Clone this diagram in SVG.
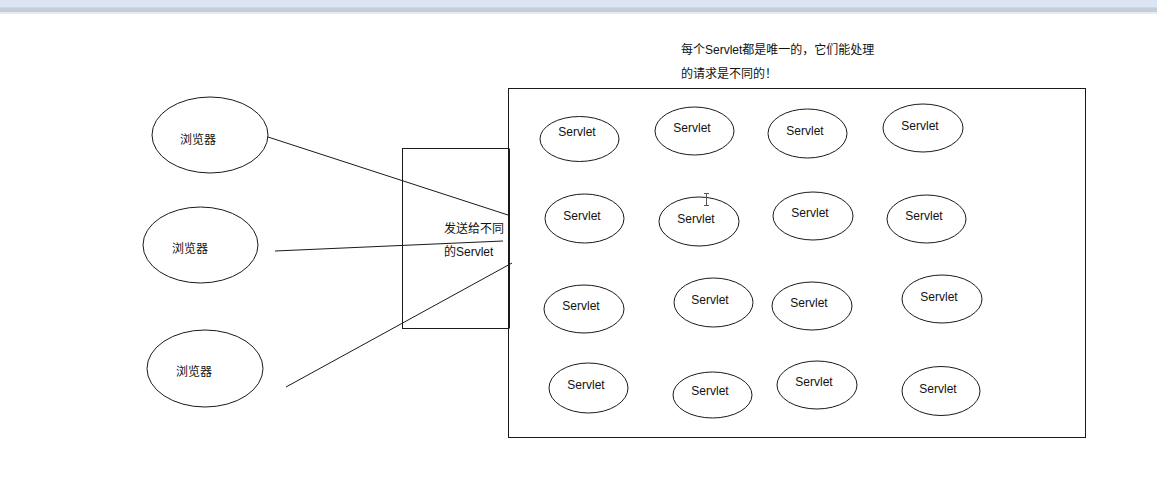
<svg xmlns="http://www.w3.org/2000/svg" width="1157" height="498" viewBox="0 0 1157 498">
  <style>
    .shape { fill: #fff; stroke: #1a1a1a; stroke-width: 1; }
    .frame { fill: none; stroke: #1a1a1a; stroke-width: 1; }
    .wire { fill: none; stroke: #1a1a1a; stroke-width: 1; }
    .lbl { font-family: "Liberation Sans", "Noto Sans CJK SC", sans-serif; font-size: 12px; fill: #111; text-anchor: middle; dominant-baseline: central; }
    .note { font-family: "Liberation Sans", "Noto Sans CJK SC", sans-serif; font-size: 12px; fill: #111; dominant-baseline: central; }
  </style>

  <rect x="0" y="0" width="1157" height="498" fill="#fff"/>

  <!-- window toolbar strip along the top edge -->
  <g id="toolbar">
    <rect x="0" y="0" width="1157" height="7" fill="#dce6f2"/>
    <rect x="0" y="7" width="1157" height="1" fill="#cdd8e6"/>
    <rect x="0" y="8" width="1157" height="4" fill="#c3cddc"/>
    <rect x="0" y="12" width="1157" height="2" fill="#e6ebf2"/>
  </g>

  <!-- big container for the servlets -->
  <g id="container">
    <rect class="frame" x="508.5" y="88.5" width="577" height="349"/>
  </g>

  <!-- dispatcher box -->
  <g id="dispatcher">
    <rect class="frame" x="402.5" y="148.5" width="106" height="180"/>
    <line class="wire" x1="509.5" y1="148.5" x2="509.5" y2="328.5"/>
    <text class="note" x="444" y="229">发送给不同</text>
    <text class="note" x="444" y="252">的Servlet</text>
  </g>

  <!-- connectors from browsers to the dispatcher -->
  <g id="connectors">
    <line class="wire" x1="268" y1="137" x2="508" y2="215"/>
    <line class="wire" x1="275" y1="251" x2="503" y2="241"/>
    <line class="wire" x1="286" y1="387" x2="512" y2="263"/>
  </g>

  <!-- browsers -->
  <g id="browser-1">
    <ellipse class="shape" cx="210" cy="135" rx="58" ry="38"/>
    <text class="lbl" x="198" y="140">浏览器</text>
  </g>
  <g id="browser-2">
    <ellipse class="shape" cx="200.5" cy="245" rx="57.5" ry="38"/>
    <text class="lbl" x="190" y="249">浏览器</text>
  </g>
  <g id="browser-3">
    <ellipse class="shape" cx="205" cy="368.5" rx="58" ry="38.5"/>
    <text class="lbl" x="194" y="372">浏览器</text>
  </g>

  <!-- note above the container -->
  <g id="note">
    <text class="note" x="681" y="50">每个Servlet都是唯一的，它们能处理</text>
    <text class="note" x="681" y="74">的请求是不同的！</text>
  </g>

  <!-- servlets, row 1 -->
  <g id="servlet-1"><ellipse class="shape" cx="579.5" cy="139" rx="39.5" ry="22.5"/><text class="lbl" x="577" y="132">Servlet</text></g>
  <g id="servlet-2"><ellipse class="shape" cx="694.5" cy="131" rx="39.5" ry="24"/><text class="lbl" x="692" y="128">Servlet</text></g>
  <g id="servlet-3"><ellipse class="shape" cx="807.5" cy="133.5" rx="39.5" ry="24.5"/><text class="lbl" x="805" y="131">Servlet</text></g>
  <g id="servlet-4"><ellipse class="shape" cx="923" cy="128" rx="40" ry="24"/><text class="lbl" x="920" y="126">Servlet</text></g>

  <!-- servlets, row 2 -->
  <g id="servlet-5"><ellipse class="shape" cx="584.5" cy="218.5" rx="39.5" ry="24.5"/><text class="lbl" x="582" y="216">Servlet</text></g>
  <g id="servlet-6"><ellipse class="shape" cx="699" cy="221.5" rx="40" ry="24.5"/><text class="lbl" x="696" y="219">Servlet</text></g>
  <g id="servlet-7"><ellipse class="shape" cx="813" cy="216" rx="40" ry="24"/><text class="lbl" x="810" y="213">Servlet</text></g>
  <g id="servlet-8"><ellipse class="shape" cx="926.5" cy="219" rx="39.5" ry="24"/><text class="lbl" x="924" y="216">Servlet</text></g>

  <!-- servlets, row 3 -->
  <g id="servlet-9"><ellipse class="shape" cx="584" cy="309" rx="40" ry="24"/><text class="lbl" x="581" y="306">Servlet</text></g>
  <g id="servlet-10"><ellipse class="shape" cx="713.5" cy="302.5" rx="39.5" ry="24.5"/><text class="lbl" x="710" y="300">Servlet</text></g>
  <g id="servlet-11"><ellipse class="shape" cx="812" cy="306" rx="40" ry="24"/><text class="lbl" x="809" y="303">Servlet</text></g>
  <g id="servlet-12"><ellipse class="shape" cx="942" cy="299" rx="40" ry="24"/><text class="lbl" x="939" y="297">Servlet</text></g>

  <!-- servlets, row 4 -->
  <g id="servlet-13"><ellipse class="shape" cx="588.5" cy="388" rx="39.5" ry="25"/><text class="lbl" x="586" y="385">Servlet</text></g>
  <g id="servlet-14"><ellipse class="shape" cx="712.5" cy="395" rx="39.5" ry="23"/><text class="lbl" x="710" y="391">Servlet</text></g>
  <g id="servlet-15"><ellipse class="shape" cx="817" cy="385" rx="40" ry="24"/><text class="lbl" x="814" y="382">Servlet</text></g>
  <g id="servlet-16"><ellipse class="shape" cx="941" cy="391" rx="39" ry="24.5"/><text class="lbl" x="938" y="389">Servlet</text></g>

  <!-- text cursor resting over the second-row servlet -->
  <g id="cursor" stroke="#555" stroke-width="1" fill="none">
    <line x1="706.5" y1="193" x2="706.5" y2="206"/>
    <line x1="704" y1="193.5" x2="709" y2="193.5"/>
    <line x1="704" y1="205.5" x2="709" y2="205.5"/>
  </g>
</svg>
